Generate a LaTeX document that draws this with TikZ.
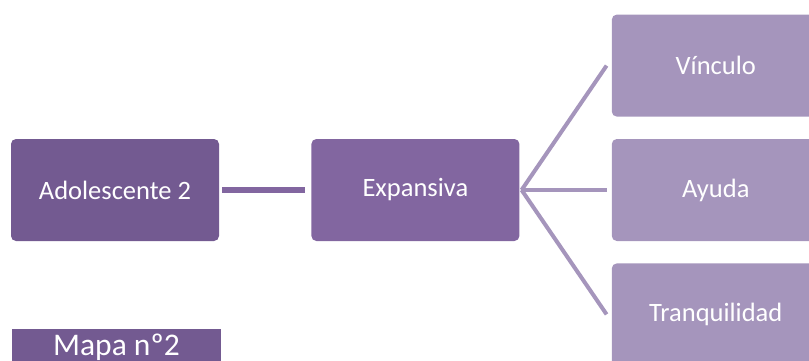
\documentclass[tikz,border=0pt]{standalone}
\usepackage{fontspec}
\setmainfont{Carlito}
\usepackage{tikz}
\usetikzlibrary{shapes, arrows, positioning}
\definecolor{darkpurple}{RGB}{115,90,145}
\definecolor{midpurple}{RGB}{130,102,160}
\definecolor{lilac}{RGB}{165,149,188}
\tikzstyle{block} = [rectangle, fill=darkpurple, text=white, font=\fontsize{26.5}{30}\selectfont,
rounded corners=5pt, minimum height=102pt, minimum width=208pt, inner sep=0pt]
\tikzstyle{blockm} = [block, fill=midpurple]
\tikzstyle{blockl} = [block, fill=lilac]
\tikzstyle{label} = [rectangle, fill=darkpurple, text=white, font=\fontsize{31.5}{36}\selectfont,
minimum height=36pt, minimum width=209pt, inner sep=0pt]
\tikzstyle{line} = [draw=midpurple, line width=5.5pt]
\tikzstyle{fan} = [draw=lilac, line width=4pt]

\begin{document}
\begin{tikzpicture}[x=1pt, y=-1pt, node distance = 92pt]
	\useasboundingbox (0,0) rectangle (809,361);
	
	% Place nodes
	\node [block] 							(Adolescente) at (115,190)	{Adolescente 2};
	\node [blockm, right=of Adolescente] 	(Expansiva)  				{Expansiva};
	\node [blockl, right=of Expansiva] 		(Ayuda)						{Ayuda};
	\node [blockl, above=22pt of Ayuda]		(Vinculo)					{Vínculo};
	\node [blockl, below=22pt of Ayuda]		(Tranquilidad)				{Tranquilidad};
	\node [label] 							(Mapa) at (116.5,347)		{Mapa nº2};
	
	%Draw edges
	\path [line] ([xshift=3pt]Adolescente.east)	-- 	([xshift=-6pt]Expansiva.west);
	\path [fan] ([xshift=2pt]Expansiva.east)	--	([xshift=-5pt]Vinculo.west);
	\path [fan] ([xshift=2pt]Expansiva.east)	--	([xshift=-5pt]Ayuda.west);
	\path [fan] ([xshift=2pt]Expansiva.east)	--	([xshift=-5pt]Tranquilidad.west);
	
\end{tikzpicture}
\end{document}
